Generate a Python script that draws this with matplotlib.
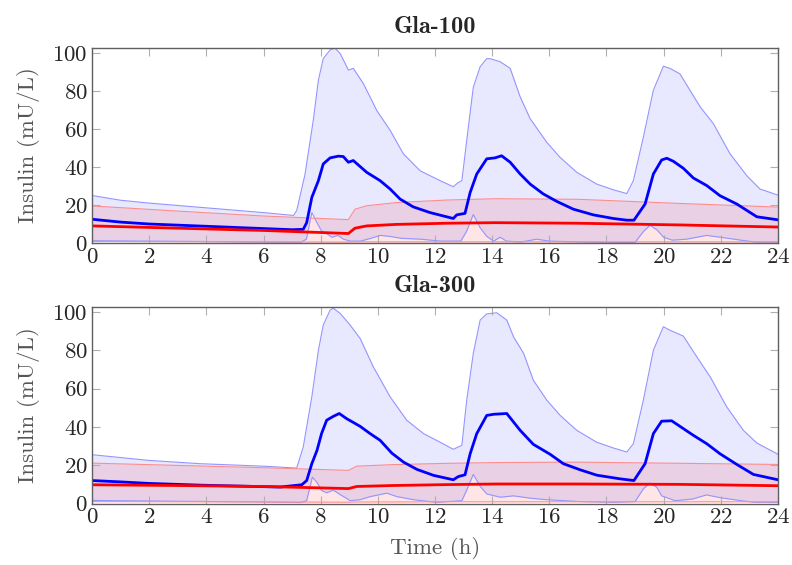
import matplotlib
matplotlib.use("Agg")
import matplotlib.pyplot as plt
import numpy as np

plt.rcParams['font.family'] = ['cmr10', 'DejaVu Serif']
plt.rcParams['axes.formatter.use_mathtext'] = True
plt.rcParams['mathtext.fontset'] = 'cm'

# ---------------- Gla-100 ----------------
t100_mean = [0, 1, 2, 4, 6, 7, 7.39, 7.51, 7.69, 7.92, 8.09, 8.33, 8.62, 8.79, 8.97, 9.14, 9.61, 10.08, 10.43,
             10.78, 11.24, 11.83, 12.64, 12.76, 13.05, 13.23, 13.46, 13.81, 14.1, 14.33, 14.63, 14.98, 15.33,
             15.79, 16.26, 16.84, 17.54, 18.24, 18.71, 18.96, 19.35, 19.64, 19.93, 20.11, 20.34, 20.69, 21.04,
             21.51, 21.97, 22.56, 23.26, 24]
g100_mean = [12.5, 11.0, 10.0, 8.8, 7.6, 7.0, 7.2, 10.7, 24, 32.8, 41.6, 44.8, 45.7, 45.5, 42.5, 43.4, 37.2, 32.8, 28.4,
             23.1, 19, 16, 12.9, 14.8, 15.6, 26.6, 36.3, 44.3, 44.8, 45.9, 42.5, 36.3, 31,
             25.8, 21.9, 17.8, 14.8, 12.9, 12, 12, 20.5, 36.3, 43.7, 44.6, 43, 39.3, 34.2,
             30.2, 24.9, 20.5, 13.8, 12.2]

t100_up = [0, 1, 2, 4, 6, 7.05, 7.16, 7.45, 7.74, 7.92, 8.09, 8.33, 8.5, 8.68, 8.97, 9.14, 9.49, 9.96, 10.43,
           10.89, 11.48, 12.18, 12.64, 12.82, 12.94, 13.11, 13.34, 13.58, 13.81, 13.93, 14.28, 14.63, 14.98,
           15.33, 15.91, 16.38, 16.96, 17.66, 18.24, 18.71, 18.94, 19.29, 19.64, 19.99, 20.22, 20.57, 20.92,
           21.28, 21.74, 22.32, 22.91, 23.37, 24]
g100_up = [25, 22.5, 21, 18.5, 16, 14.5, 17, 36, 64.5, 85.7, 97, 101.6, 102.5, 99.8, 91, 91.9, 84, 69.8, 59.3,
           47, 38, 32.8, 29.6, 31.9, 32.8, 54, 82, 92.8, 97, 97, 95.4, 91.9, 76.9,
           65.4, 53, 45, 37.2, 31, 28, 26, 32.8, 55.7, 80.4, 93, 91.9, 89, 80.4,
           71.6, 62.8, 47, 35.4, 28.4, 25.2]

t100_lo = [0, 3, 6, 7.3, 7.5, 7.69, 7.87, 8.03, 8.2, 8.4, 8.6, 8.8, 9.03, 9.4, 9.76, 10.08, 10.4, 10.8,
           11.5, 12.2, 12.9, 13.1, 13.34, 13.58, 13.81, 14.05, 14.28, 14.5, 15.0, 15.56, 16.0, 17.2, 18.2,
           19.0, 19.29, 19.52, 19.76, 20.0, 20.3, 20.8, 21.5, 22.0, 22.7, 23.2, 24]
g100_lo = [1.2, 0.9, 0.5, 0.4, 2, 16, 10.7, 6.3, 5, 3, 4, 2, 1, 1, 2.5, 4, 3.5, 2.5,
           2, 1, 1, 6, 15, 8, 3.5, 1, 3, 1, 0.5, 2, 1, 0.5, 0.3,
           0.3, 6, 9.3, 7, 3, 1.5, 2, 4, 3, 1.5, 0.5, 0.5]

t100_red = [0, 3, 6, 8.97, 9.2, 9.61, 10.66, 12.4, 14.1, 17.0, 20.6, 24]
g100_red_mean = [9.0, 7.8, 6.6, 5.0, 7.8, 9.0, 9.8, 10.4, 10.7, 10.4, 9.5, 8.4]
g100_red_up = [19.5, 16.8, 14.2, 12.3, 17.8, 19.6, 21.3, 22.6, 23.3, 23.0, 20.8, 18.9]
g100_red_lo = [0.8, 0.7, 0.6, 0.5, 0.6, 0.6, 0.6, 0.6, 0.6, 0.6, 0.6, 0.6]

# ---------------- Gla-300 ----------------
t300_mean = [0, 1, 2, 3.78, 6.58, 7.34, 7.51, 7.69, 7.87, 8.03, 8.21, 8.44, 8.65, 8.91, 9.38, 9.73, 10.08, 10.49,
             10.9, 11.37, 11.95, 12.64, 12.82, 13.05, 13.23, 13.46, 13.81, 14.05, 14.51, 14.98, 15.44, 16.03,
             16.49, 17.08, 17.66, 18.47, 18.96, 19.35, 19.64, 19.93, 20.28, 20.57, 21.04, 21.51, 21.97, 22.56,
             23.14, 24]
g300_mean = [12, 11.3, 10.5, 9.6, 8.6, 9.8, 12, 20.8, 27.7, 36.5, 43.5, 45.5, 47, 44.3, 40.3, 36.5, 33, 26.3,
             21.6, 17.8, 14.7, 12.4, 14.1, 15, 26, 36.5, 46, 46.6, 47, 38.2, 30.9, 25.7,
             20.8, 17.6, 14.8, 12.9, 12, 20.8, 36.5, 43, 43.2, 40.3, 35.6, 31.2, 26, 20.4,
             15.2, 12.4]

t300_up = [0, 1, 2, 3.78, 6, 7.16, 7.39, 7.69, 7.92, 8.09, 8.33, 8.44, 8.68, 9.03, 9.38, 9.84, 10.43, 11.01,
           11.6, 12.18, 12.64, 12.94, 13.11, 13.34, 13.58, 13.81, 14.16, 14.51, 14.75, 15.1, 15.44, 15.91,
           16.38, 16.96, 17.66, 18.24, 18.71, 18.94, 19.29, 19.64, 19.99, 20.22, 20.69, 21.16, 21.63, 22.21,
           22.79, 23.26, 24]
g300_up = [25.5, 24, 22.5, 20.8, 19.5, 18.5, 29.5, 55.7, 80, 93.2, 101, 102, 99.3, 93.2, 86.2, 71.4, 55.7, 43.5,
           36.5, 32, 28.3, 30.4, 54, 78.4, 95.8, 99, 99.6, 95.8, 87, 78.4, 64.4, 54,
           46, 38.2, 32, 29, 26.9, 31.2, 54, 80, 92.3, 90.5, 87.4, 76.6, 66.1, 50.4,
           38.2, 31.6, 25.7]

t300_lo = [0, 3, 6, 7.3, 7.51, 7.71, 7.87, 8.03, 8.21, 8.44, 8.68, 9.03, 9.38, 9.73, 10.31, 10.67, 11.25,
           12.06, 12.94, 13.1, 13.34, 13.58, 13.81, 14.28, 14.75, 15.33, 15.91, 17.08, 18.2, 19.0, 19.29,
           19.52, 19.76, 19.93, 20.4, 21.0, 21.5, 22.0, 22.7, 23.2, 24]
g300_lo = [1.6, 1.2, 0.8, 0.5, 1.5, 13.8, 11, 6.8, 5.6, 7, 4.7, 1.5, 2, 3.6, 5.4, 3.6, 2,
           0.6, 1.5, 6.7, 15.2, 9, 5, 3.3, 4, 2.8, 2, 1, 0.6, 1, 7.7,
           10.6, 8.5, 4, 1.5, 2.3, 4.5, 3, 1.5, 0.6, 0.6]

t300_red = [0, 3, 6, 8.97, 9.26, 10.5, 12.5, 14.16, 17.0, 20.6, 24]
g300_red_mean = [9.8, 9.4, 8.9, 7.8, 8.9, 9.4, 9.9, 10.2, 10.2, 10.0, 9.3]
g300_red_up = [21.1, 19.9, 18.7, 17.3, 19.5, 20.3, 21.0, 21.4, 21.6, 21.0, 20.4]
g300_red_lo = [1.0, 0.9, 0.8, 0.7, 0.8, 0.8, 0.9, 0.9, 0.9, 0.9, 0.9]

xticks = list(range(0, 25, 2))
yticks = [0, 20, 40, 60, 80, 100]

fig = plt.figure(figsize=(7.92, 5.65), dpi=100)
ax1 = fig.add_axes([0.1162, 0.5699, 0.8661, 0.3451])
ax2 = fig.add_axes([0.1162, 0.1088, 0.8661, 0.3478])

BLUE_FILL = (0.0, 0.0, 1.0, 0.09)
RED_FILL = (1.0, 0.0, 0.0, 0.10)
BLUE_EDGE = (0.58, 0.58, 1.0)
RED_EDGE = (1.0, 0.55, 0.55)
FS = 16.5


def panel(ax, title, tm, mean, tu, up, tl, lo, tr, rmean, rup, rlo, xlabel=None):
    tt = np.union1d(tu, tl)
    ax.fill_between(tt, np.interp(tt, tl, lo), np.interp(tt, tu, up), color=BLUE_FILL, lw=0)
    ax.fill_between(tr, rlo, rup, color=RED_FILL, lw=0)
    ax.plot(tu, up, color=BLUE_EDGE, lw=0.8)
    ax.plot(tl, lo, color=BLUE_EDGE, lw=0.8)
    ax.plot(tr, rup, color=RED_EDGE, lw=0.8)
    ax.plot(tr, rlo, color=RED_EDGE, lw=0.8)
    ax.plot(tm, mean, color='#0000ff', lw=2.0, solid_joinstyle='round')
    ax.plot(tr, rmean, color='#ff0000', lw=2.0, solid_joinstyle='round')
    ax.set_xlim(0, 24)
    ax.set_ylim(0, 102.6)
    ax.set_xticks(xticks)
    ax.set_yticks(yticks)
    ax.tick_params(direction='in', length=5.5, width=0.8, color='#b0b0b0',
                   top=True, right=True, labelsize=FS, labelcolor='#262626', pad=3)
    for s in ax.spines.values():
        s.set_color('#606060')
        s.set_linewidth(1.0)
    ax.set_ylabel('Insulin (mU/L)', fontsize=FS, color='#555555', labelpad=9)
    ax.set_title(title, fontsize=17.5, fontfamily=['cmb10', 'DejaVu Serif'], color='#262626', pad=11)
    if xlabel:
        ax.set_xlabel(xlabel, fontsize=FS, color='#555555', labelpad=7)


panel(ax1, 'Gla-100', t100_mean, g100_mean, t100_up, g100_up, t100_lo, g100_lo,
      t100_red, g100_red_mean, g100_red_up, g100_red_lo)
panel(ax2, 'Gla-300', t300_mean, g300_mean, t300_up, g300_up, t300_lo, g300_lo,
      t300_red, g300_red_mean, g300_red_up, g300_red_lo, xlabel='Time (h)')

fig.savefig('out.png', dpi=100)
